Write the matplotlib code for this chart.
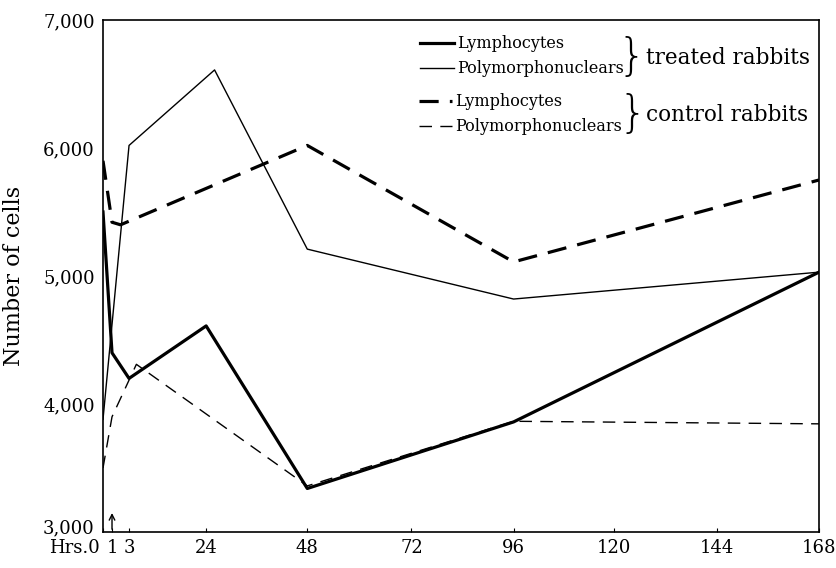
import numpy as np
import matplotlib.pyplot as plt
from matplotlib.transforms import ScaledTranslation

plt.rcParams['font.family'] = 'DejaVu Serif'

# labelled hours on the x axis (the hand-drawn axis is stretched near 0)
tick_hours = [0, 1, 3, 24, 48, 72, 96, 120, 144, 168]
tick_labels = ['Hrs.0', '1', '3', '24', '48', '72', '96', '120', '144', '168']
# where each labelled hour sits along the drawn axis
tick_pos = [104, 113, 130, 207, 308, 412, 514, 614, 717, 819]

y_ticks = [3000, 4000, 5000, 6000, 7000]
y_labels = ['3,000', '4,000', '5,000', '6,000', '7,000']

treated_lymph_hrs = [0, 1, 3, 24, 48, 96, 168]
treated_lymph = [5500, 4400, 4200, 4610, 3340, 3860, 5030]
treated_poly_hrs = [0, 3, 26, 48, 96, 168]
treated_poly = [3880, 6020, 6610, 5210, 4820, 5030]
control_lymph_hrs = [0, 1, 2, 48, 96, 168]
control_lymph = [5900, 5420, 5400, 6020, 5110, 5750]
control_poly_hrs = [0, 1, 5, 48, 96, 168]
control_poly = [3500, 3900, 4310, 3360, 3865, 3845]


def fwd(h):
    return np.interp(h, tick_hours, tick_pos)


def inv(p):
    return np.interp(p, tick_pos, tick_hours)


def nudge(label, dx, dy):
    label.set_transform(label.get_transform() +
                        ScaledTranslation(dx / 100, dy / 100, fig.dpi_scale_trans))


fig = plt.figure(figsize=(8.37, 5.68), dpi=100)
ax = fig.add_axes([103 / 837, 1 - 532 / 568, 716 / 837, 512 / 568])
ax.set_xscale('function', functions=(fwd, inv))

l1, = ax.plot(treated_lymph_hrs, treated_lymph, color='black', lw=2.3,
              label='Lymphocytes')
l2, = ax.plot(treated_poly_hrs, treated_poly, color='black', lw=1.0,
              label='Polymorphonuclears')
l3, = ax.plot(control_lymph_hrs, control_lymph, color='black', lw=2.3,
              dashes=(6, 3.5), label='Lymphocytes')
l4, = ax.plot(control_poly_hrs, control_poly, color='black', lw=1.0,
              dashes=(9, 6), label='Polymorphonuclears')

# small arrow near the origin
ax.annotate('', xy=(1, 3170), xytext=(1, 3000),
            arrowprops=dict(arrowstyle='->', lw=1.0, color='black'))

ax.set_xlim(0, 168)
ax.set_ylim(3000, 7000)
ax.tick_params(axis='x', direction='in', length=3, pad=5)
ax.tick_params(axis='y', length=0, pad=6)
ax.set_xticks(tick_hours)
ax.set_xticklabels(tick_labels, fontsize=13)
ax.get_xticklabels()[0].set_ha('right')
nudge(ax.get_xticklabels()[0], -3, 0)
ax.set_yticks(y_ticks)
ax.set_yticklabels(y_labels, fontsize=13)
nudge(ax.get_yticklabels()[0], 0, 6)
for s in ax.spines.values():
    s.set_linewidth(1.2)

ax.set_ylabel('Number of cells', fontsize=16)
ax.yaxis.set_label_coords(-0.109, 0.5)

leg_kw = dict(loc='upper left', frameon=False, fontsize=11.5, handlelength=2.1,
              handletextpad=0.2, labelspacing=0.5, borderpad=0, borderaxespad=0)
leg1 = ax.legend(handles=[l1, l2], bbox_to_anchor=(0.443, 0.97), **leg_kw)
ax.add_artist(leg1)
ax.legend(handles=[l3, l4], bbox_to_anchor=(0.441, 0.857), **leg_kw)

ax.text(0.758, 0.927, '}', transform=ax.transAxes, fontsize=32, va='center',
        ha='right', family='DejaVu Sans', fontweight='light')
ax.text(0.758, 0.926, 'treated rabbits', transform=ax.transAxes, fontsize=15.5,
        va='center', ha='left')
ax.text(0.759, 0.815, '}', transform=ax.transAxes, fontsize=32, va='center',
        ha='right', family='DejaVu Sans', fontweight='light')
ax.text(0.759, 0.815, 'control rabbits', transform=ax.transAxes, fontsize=15.5,
        va='center', ha='left')

fig.savefig('out.png', dpi=100)
